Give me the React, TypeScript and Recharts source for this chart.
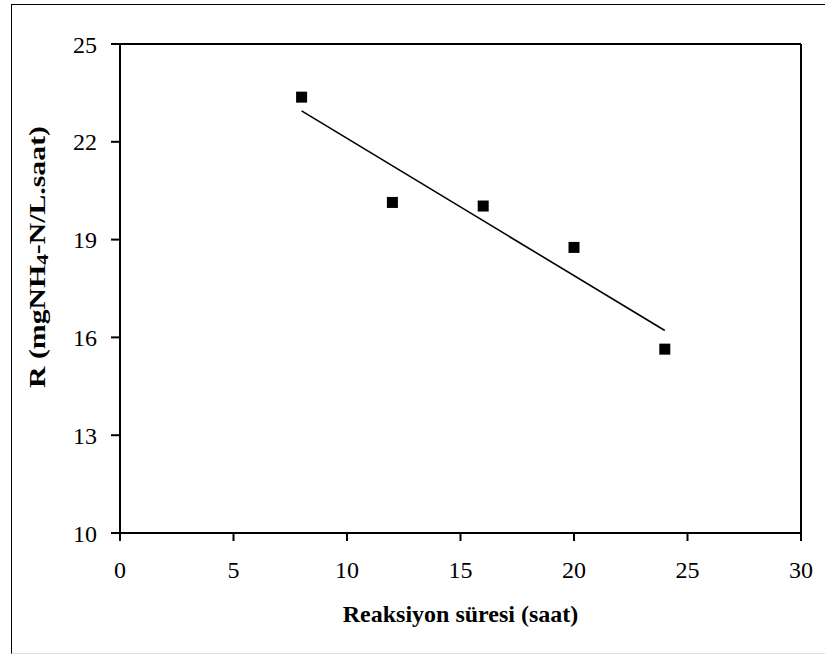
import React from "react";
import { ComposedChart, Scatter, XAxis, YAxis, ReferenceLine, Label } from "recharts";

// measured points: reaction time (h) vs rate
const hours = [8, 12, 16, 20, 24];
const rates = [23.37, 20.14, 20.03, 18.76, 15.64];

// linear trend line end points as drawn in the figure
const trendHours = [8, 24];
const trendRates = [22.95, 16.21];

const xTicks = [0, 5, 10, 15, 20, 25, 30];
const yTicks = [10, 13, 16, 19, 22, 25];

const points = hours.map((h, i) => ({ x: h, y: rates[i] }));
const trend = trendHours.map((h, i) => ({ x: h, y: trendRates[i] }));

const font = "'Liberation Serif', 'Times New Roman', serif";

const Square = (props: any) => {
  const { cx, cy } = props;
  if (cx == null || cy == null) return null;
  return <rect x={cx - 5.5} y={cy - 5.5} width={11} height={11} fill="#000" />;
};

// rotated y axis title, stretched like the original figure
const YTitle = () => {
  const cx = 45;
  const cy = 257;
  return (
    <text
      x={cx}
      y={cy}
      transform={`rotate(-90, ${cx}, ${cy})`}
      textAnchor="middle"
      fontFamily={font}
      fontWeight="bold"
      fontSize={24}
      fill="#000"
      textLength={262}
      lengthAdjust="spacingAndGlyphs"
    >
      R (mgNH<tspan fontSize={17} dy={3}>4</tspan>
      <tspan dy={-3}>-N/L.saat)</tspan>
    </text>
  );
};

export default function App() {
  return (
    <div style={{ position: "absolute", left: 0, top: 0, width: 825, height: 656, background: "#fff" }}>
      <div
        style={{
          position: "absolute",
          left: 11,
          top: 4,
          width: 813,
          height: 648,
          borderLeft: "1.5px solid #000",
          borderTop: "1.5px solid #000",
          borderBottom: "1px solid #ddd",
        }}
      />
      <div style={{ position: "absolute", left: 0, top: 0 }}>
        <ComposedChart
          width={825}
          height={656}
          margin={{ top: 44, right: 24, left: 60, bottom: 33 }}
        >
          <XAxis
            type="number"
            dataKey="x"
            domain={[0, 30]}
            ticks={xTicks}
            interval={0}
            allowDataOverflow
            stroke="#000"
            strokeWidth={2}
            tickSize={8}
            tickMargin={20}
            height={90}
            tick={{ fill: "#000", fontSize: 24, fontFamily: font }}
          >
            <Label
              value="Reaksiyon süresi (saat)"
              position="insideBottom"
              offset={1}
              style={{ fill: "#000", fontSize: 24, fontFamily: font, fontWeight: "bold" }}
            />
          </XAxis>
          <YAxis
            type="number"
            dataKey="y"
            domain={[10, 25]}
            ticks={yTicks}
            interval={0}
            allowDataOverflow
            stroke="#000"
            strokeWidth={2}
            tickSize={9}
            tickMargin={14}
            width={60}
            tick={{ fill: "#000", fontSize: 24, fontFamily: font }}
            label={<YTitle />}
          />
          <ReferenceLine y={25} stroke="#000" strokeWidth={2} />
          <ReferenceLine x={30} stroke="#000" strokeWidth={2} />
          <Scatter
            data={trend}
            line={{ stroke: "#000", strokeWidth: 1.6 }}
            shape={() => null}
            isAnimationActive={false}
          />
          <Scatter data={points} shape={<Square />} isAnimationActive={false} />
        </ComposedChart>
      </div>
    </div>
  );
}
